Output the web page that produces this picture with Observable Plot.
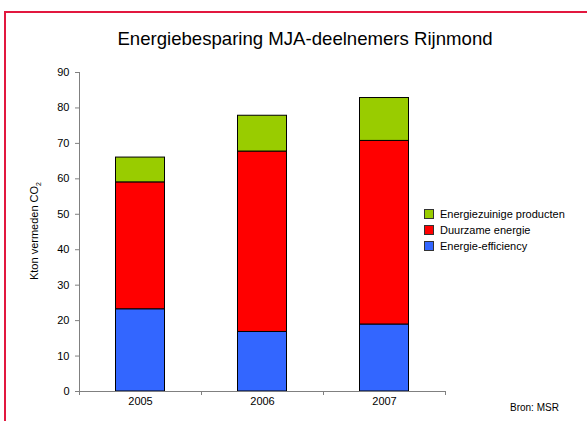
<!DOCTYPE html>
<html>
<head>
<meta charset="utf-8">
<script src="https://cdn.jsdelivr.net/npm/d3@7"></script>
<script src="https://cdn.jsdelivr.net/npm/@observablehq/plot@0.6"></script>
<style>
  html, body { margin: 0; padding: 0; background: #fff; }
  body { width: 587px; height: 421px; position: relative; overflow: hidden;
         font-family: "Liberation Sans", Arial, Helvetica, sans-serif; }
  #border { position: absolute; left: 4px; top: 11px; width: 600px; height: 430px;
            border-left: 2px solid #e2183f; border-top: 2px solid #e2183f; box-sizing: border-box; }
  #chart { position: absolute; left: 0; top: 0; }
  #title { position: absolute; left: 0; width: 610px; top: 28px; text-align: center;
           font-size: 18.6px; color: #000; }
  #legend { position: absolute; left: 424px; top: 206px; font-size: 11px; color: #000; }
  .item { display: flex; align-items: center; height: 16px; }
  .sw { width: 8px; height: 8px; border: 1px solid #333; margin-right: 6px; }
  #source { position: absolute; left: 510px; top: 402px; font-size: 10px; color: #000; }
  #ylabel { position: absolute; left: 35px; top: 231px; font-size: 11px; white-space: nowrap;
            transform: translate(-50%, -50%) rotate(-90deg); }
</style>
</head>
<body>
<div id="border"></div>
<div id="chart"></div>
<div id="title">Energiebesparing MJA-deelnemers Rijnmond</div>
<div id="ylabel">Kton vermeden CO<sub style="font-size:7px">2</sub></div>
<div id="legend"></div>
<div id="source">Bron: MSR</div>
<script>
const years = [2005, 2006, 2007];
const series = ["Energie-efficiency", "Duurzame energie", "Energiezuinige producten"];
const efficiency = [23.2, 16.8, 18.9];
const duurzaam = [35.8, 50.9, 51.8];
const producten = [7.0, 10.1, 12.1];
const colors = ["#3366ff", "#ff0000", "#99cc00"];
const yTicks = [0, 10, 20, 30, 40, 50, 60, 70, 80, 90];

const valuesBySeries = [efficiency, duurzaam, producten];
const data = [];
series.forEach((s, i) => years.forEach((y, j) => data.push({year: y, series: s, value: valuesBySeries[i][j]})));

const boundaries = [years[0] - 0.5, ...years.map(y => y + 0.5)];

const plot = Plot.plot({
  width: 587,
  height: 421,
  marginLeft: 79,
  marginRight: 142,
  marginTop: 72,
  marginBottom: 30,
  style: {fontFamily: '"Liberation Sans", Arial, sans-serif', fontSize: "11px", color: "#000", background: "transparent"},
  x: {type: "linear", domain: [years[0] - 0.5, years[years.length - 1] + 0.5]},
  y: {domain: [0, 90]},
  color: {domain: series, range: colors},
  marks: [
    Plot.rectY(data, Plot.stackY({
      x1: d => d.year - 0.5,
      x2: d => d.year + 0.5,
      y: "value",
      fill: "series",
      order: series,
      insetLeft: 36.5,
      insetRight: 36.5,
      stroke: "#000",
      strokeWidth: 1
    })),
    Plot.axisY({ticks: yTicks, tickSize: 4, tickPadding: 6, label: null, stroke: "#808080", fontSize: 11}),
    Plot.axisX({ticks: boundaries, tickSize: 4, tickFormat: () => "", label: null, stroke: "#808080"}),
    Plot.axisX({ticks: years, tickSize: 0, tickPadding: 6, tickFormat: d => String(d), label: null, fontSize: 11}),
    Plot.ruleX([years[0] - 0.5], {stroke: "#808080"}),
    Plot.ruleY([0], {stroke: "#808080"})
  ]
});
document.getElementById("chart").appendChild(plot);

const legend = document.getElementById("legend");
[...series].reverse().forEach(s => {
  const i = series.indexOf(s);
  const div = document.createElement("div");
  div.className = "item";
  div.innerHTML = `<span class="sw" style="background:${colors[i]}"></span><span>${s}</span>`;
  legend.appendChild(div);
});
</script>
</body>
</html>
